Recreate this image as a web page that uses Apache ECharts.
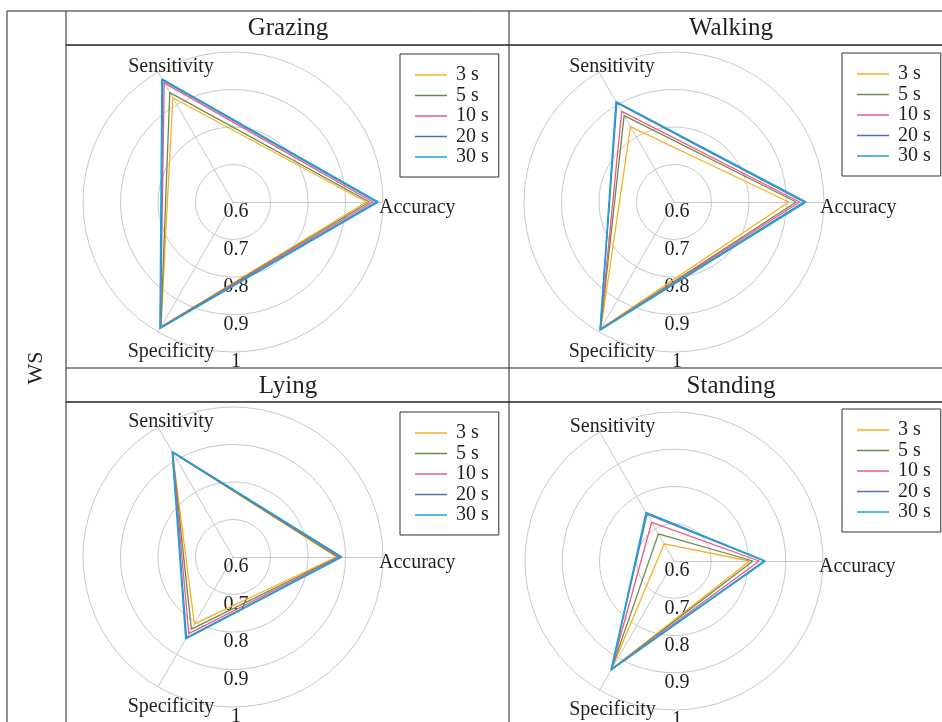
<!DOCTYPE html>
<html>
<head>
<meta charset="utf-8">
<script src="https://cdn.jsdelivr.net/npm/echarts@6/dist/echarts.min.js"></script>
<style>
  html, body { margin: 0; padding: 0; background: #fff; }
  #chart { width: 942px; height: 722px; }
</style>
</head>
<body>
<div id="chart"></div>
<script>
// axes of every radar
const metrics = ['Accuracy', 'Sensitivity', 'Specificity'];
const windowNames = ['3 s', '5 s', '10 s', '20 s', '30 s'];
const axisMin = 0.6;
const axisMax = 1;
const axisStep = 0.1;

// one row per window size: [Accuracy, Sensitivity, Specificity]
const grazingValues = [
  [0.956, 0.921, 0.984],
  [0.964, 0.937, 0.985],
  [0.973, 0.967, 0.987],
  [0.982, 0.975, 0.988],
  [0.987, 0.979, 0.989]
];
const walkingValues = [
  [0.906, 0.832, 0.990],
  [0.926, 0.866, 0.992],
  [0.935, 0.879, 0.993],
  [0.946, 0.905, 0.994],
  [0.952, 0.909, 0.994]
];
const lyingValues = [
  [0.876, 0.923, 0.806],
  [0.880, 0.923, 0.822],
  [0.884, 0.922, 0.836],
  [0.888, 0.923, 0.848],
  [0.890, 0.924, 0.852]
];
const standingValues = [
  [0.803, 0.653, 0.935],
  [0.812, 0.684, 0.936],
  [0.829, 0.720, 0.937],
  [0.842, 0.745, 0.937],
  [0.845, 0.750, 0.937]
];

const FONT = '"Liberation Serif", "Times New Roman", serif';
const TEXT = '#231f20';
const GRID = '#c8c8c8';
const colors = ['#f7b125', '#6a8a4c', '#ea5a82', '#5b6cb2', '#1ba3dc'];

// layout of the four panels
const panels = [
  { title: 'Grazing',  values: grazingValues,  cx: 233, cy: 202, r: 150, tx: 288, ty: 28,  lx: 400, ly: 54 },
  { title: 'Walking',  values: walkingValues,  cx: 674, cy: 202, r: 150, tx: 731, ty: 28,  lx: 842, ly: 53 },
  { title: 'Lying',    values: lyingValues,    cx: 233, cy: 557, r: 150, tx: 288, ty: 386, lx: 400, ly: 412 },
  { title: 'Standing', values: standingValues, cx: 674, cy: 561, r: 149, tx: 731, ty: 386, lx: 842, ly: 409 }
];

// where each axis name sits next to the end of its axis
// (a short lineHeight with top/bottom alignment nudges the text up or down)
const nameStyle = {
  Accuracy:    { nameGap: -4, nameTextStyle: { align: 'left', verticalAlign: 'top', lineHeight: 12 } },
  Sensitivity: { nameGap: 0,  nameTextStyle: { align: 'center', verticalAlign: 'bottom', lineHeight: 10, padding: [0, 0, 0, 26] } },
  Specificity: { nameGap: 0,  nameTextStyle: { align: 'center', verticalAlign: 'top', lineHeight: 40, padding: [0, 0, 0, 26] } }
};

const radar = [];
const polar = [];
const angleAxis = [];
const radiusAxis = [];
const legend = [];
const series = [];
const graphic = [];

panels.forEach((p, i) => {
  radar.push({
    center: [p.cx, p.cy],
    radius: p.r,
    startAngle: 0,
    shape: 'circle',
    splitNumber: 4,
    indicator: metrics.map(m => Object.assign({ name: m, min: axisMin, max: axisMax }, nameStyle[m])),
    axisName: { color: TEXT, fontSize: 20, fontFamily: FONT },
    axisLine: { lineStyle: { color: GRID, width: 1 } },
    splitLine: { lineStyle: { color: GRID, width: 1 } },
    splitArea: { show: false },
    axisTick: { show: false },
    axisLabel: { show: false }
  });

  // extra polar only for the tick labels that run straight down
  polar.push({ center: [p.cx, p.cy], radius: p.r });
  angleAxis.push({ polarIndex: i, type: 'value', startAngle: 270, min: 0, max: 360, show: false });
  radiusAxis.push({
    polarIndex: i,
    type: 'value',
    min: axisMin,
    max: axisMax,
    interval: axisStep,
    axisLine: { show: false },
    axisTick: { show: false },
    splitLine: { show: false },
    axisLabel: {
      color: TEXT, fontSize: 20, fontFamily: FONT,
      align: 'center', verticalAlign: 'top', margin: 0, padding: [0, 0, 0, 6]
    }
  });

  p.values.forEach((v, k) => {
    series.push({
      type: 'radar',
      radarIndex: i,
      name: windowNames[k],
      symbol: 'none',
      silent: true,
      lineStyle: { color: colors[k], width: k === 4 ? 1.6 : 1.3 },
      itemStyle: { color: colors[k] },
      data: [{ value: v, name: windowNames[k] }]
    });
  });

  legend.push({
    left: p.lx,
    top: p.ly,
    orient: 'vertical',
    data: windowNames,
    selectedMode: false,
    icon: 'rect',
    itemWidth: 32,
    itemHeight: 1.5,
    itemGap: 0.5,
    padding: [11, 10, 10, 15],
    borderColor: '#333',
    borderWidth: 1,
    textStyle: { color: TEXT, fontSize: 20, fontFamily: FONT, lineHeight: 20, padding: [0, 0, 0, 4] }
  });

  graphic.push({
    type: 'text', x: p.tx, y: p.ty,
    style: { text: p.title, fill: TEXT, fontSize: 25, fontFamily: FONT, align: 'center', verticalAlign: 'middle' }
  });
});

// table rules
const rules = [
  [7, 11, 942, 11, 1],
  [7, 11, 7, 722, 1],
  [66, 11, 66, 722, 1],
  [509, 11, 509, 722, 1],
  [66, 45, 942, 45, 1.5],
  [66, 368, 942, 368, 1],
  [66, 402, 942, 402, 1.5]
];
rules.forEach(l => graphic.push({
  type: 'line', silent: true,
  shape: { x1: l[0], y1: l[1], x2: l[2], y2: l[3] },
  style: { stroke: '#222', lineWidth: l[4] }
}));
graphic.push({
  type: 'text', x: 36, y: 368, rotation: Math.PI / 2,
  style: { text: 'WS', fill: TEXT, fontSize: 22, fontFamily: FONT, align: 'center', verticalAlign: 'middle' }
});

const chart = echarts.init(document.getElementById('chart'), null, { renderer: 'canvas' });
chart.setOption({
  animation: false,
  backgroundColor: '#fff',
  radar, polar, angleAxis, radiusAxis, legend, series, graphic
});
</script>
</body>
</html>
